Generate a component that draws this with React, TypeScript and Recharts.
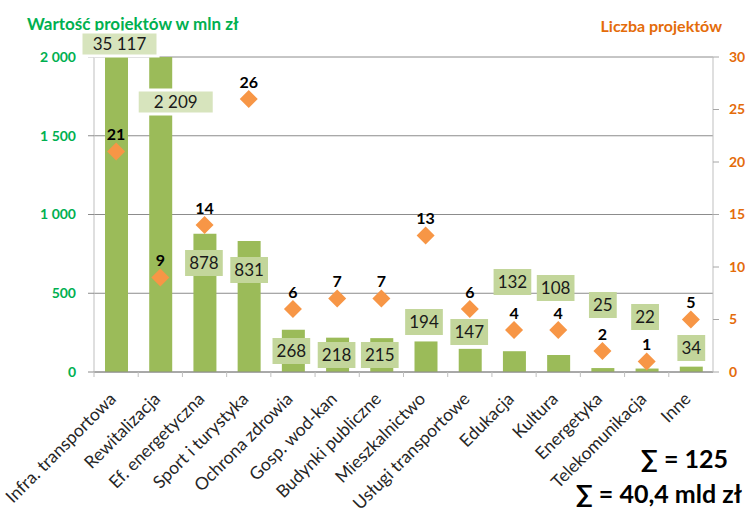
import { ComposedChart, Bar, Line, XAxis, YAxis, CartesianGrid, LabelList } from 'recharts';

const categories = [
  'Infra. transportowa',
  'Rewitalizacja',
  'Ef. energetyczna',
  'Sport i turystyka',
  'Ochrona zdrowia',
  'Gosp. wod-kan',
  'Budynki publiczne',
  'Mieszkalnictwo',
  'Usługi transportowe',
  'Edukacja',
  'Kultura',
  'Energetyka',
  'Telekomunikacja',
  'Inne',
];
const values = [35117, 2209, 878, 831, 268, 218, 215, 194, 147, 132, 108, 25, 22, 34];
const counts = [21, 9, 14, 26, 6, 7, 7, 13, 6, 4, 4, 2, 1, 5];
const valueTicks = [0, 500, 1000, 1500, 2000];
const countTicks = [0, 5, 10, 15, 20, 25, 30];

const VALUE_MAX = 2000;
const COUNT_MAX = 30;

// value labels were dragged around by hand in the original: [dx, px above the axis]
const LABEL_POS: [number, number][] = [
  [3, 328], [15, 270], [-1, 109], [0, 102], [-2, 21], [-1, 17], [-2, 17],
  [-2, 50], [-1, 40], [-2, 90], [-3, 84], [0, 67], [-2, 55], [0, 24],
];

const FONT = 'Lato, "Open Sans", sans-serif';
const GREEN = '#00B050';
const ORANGE = '#E46C0A';

const data = categories.map((name, i) => ({ name, value: values[i], count: counts[i] }));

const fmt = (v: number) => String(v).replace(/\B(?=(\d{3})+(?!\d))/g, ' ');

function ValueLabel(props: any) {
  const vb = props.viewBox ?? {};
  const x = props.x ?? vb.x;
  const y = props.y ?? vb.y;
  const width = props.width ?? vb.width;
  const height = props.height ?? vb.height;
  const { index, value } = props;
  const [dx, lift] = LABEL_POS[index];
  const cx = x + width / 2 + dx;
  const cy = y + height - lift;
  const text = fmt(value);
  const over = value > VALUE_MAX;
  const w = over ? 74 : text.length * 9.9 + 8;
  const h = over ? 21 : 26;
  return (
    <g>
      {over && <rect x={cx - w / 2 - 3} y={cy - h / 2 - 3} width={w + 6} height={h + 6} fill="#fff" />}
      <rect x={cx - w / 2} y={cy - h / 2} width={w} height={h} fill={over ? '#D7E4BD' : '#C3D69B'} />
      <text x={cx} y={cy} dy="0.36em" textAnchor="middle" fontSize={17} fill="#1a1a1a" fontFamily={FONT}>
        {text}
      </text>
    </g>
  );
}

function CountLabel(props: any) {
  const vb = props.viewBox ?? {};
  const x = props.x ?? vb.x;
  const y = props.y ?? vb.y;
  return (
    <text x={x} y={y - 17} dy="0.36em" textAnchor="middle" fontSize={16} fontWeight="bold" fill="#000" fontFamily={FONT}>
      {props.value}
    </text>
  );
}

function Diamond(props: any) {
  const { cx, cy, index } = props;
  const r = 9;
  return <path key={index} d={`M${cx},${cy - r}L${cx + r},${cy}L${cx},${cy + r}L${cx - r},${cy}Z`} fill="#F79646" />;
}

function CategoryTick(props: any) {
  const { x, y, payload, width, visibleTicksCount } = props;
  const band = width && visibleTicksCount ? width / visibleTicksCount : 44.2;
  const bx = x - band / 2;
  return (
    <g>
      <line x1={bx} x2={bx} y1={y} y2={y + 5} stroke="#BFBFBF" />
      <text
        transform={`translate(${x + 1},${y + 28}) rotate(-45)`}
        textAnchor="end"
        fontSize={17.5}
        fill="#262626"
        fontFamily={FONT}
      >
        {payload.value}
      </text>
    </g>
  );
}

export default function App() {
  return (
    <div style={{ position: 'absolute', left: 0, top: 0, width: 745, height: 509, background: '#fff', fontFamily: FONT }}>
      <svg width={745} height={509} style={{ position: 'absolute', left: 0, top: 0 }}>
        <text x={27} y={30} fontSize={17} fontWeight="bold" fill={GREEN} fontFamily={FONT}>
          Wartość projektów w mln zł
        </text>
        <text x={722} y={32} textAnchor="end" fontSize={16} fontWeight="bold" fill={ORANGE} fontFamily={FONT}>
          Liczba projektów
        </text>
        <text x={728} y={468} textAnchor="end" fontSize={25} fontWeight="bold" fill="#000" fontFamily={FONT}>
          ∑ = 125
        </text>
        <text x={742} y={503} textAnchor="end" fontSize={25} fontWeight="bold" fill="#000" fontFamily={FONT}>
          ∑ = 40,4 mld zł
        </text>
      </svg>
      <div style={{ position: 'absolute', left: 0, top: 0 }}>
        <ComposedChart width={745} height={509} data={data} margin={{ top: 57, right: 0, bottom: 0, left: 0 }}>
          <CartesianGrid yAxisId="value" vertical={false} stroke="#8C8C8C" />
          <XAxis
            dataKey="name"
            interval={0}
            height={137}
            tickSize={0}
            tickMargin={0}
            tickLine={false}
            axisLine={{ stroke: '#8C8C8C' }}
            tick={<CategoryTick />}
          />
          <YAxis
            yAxisId="value"
            domain={[0, VALUE_MAX]}
            ticks={valueTicks}
            allowDataOverflow
            width={94}
            tickSize={6}
            tickMargin={12}
            tickFormatter={fmt}
            axisLine={{ stroke: '#BFBFBF' }}
            tickLine={{ stroke: '#8C8C8C' }}
            tick={{ fill: GREEN, fontSize: 14, fontWeight: 'bold', fontFamily: FONT }}
          />
          <YAxis
            yAxisId="count"
            orientation="right"
            domain={[0, COUNT_MAX]}
            ticks={countTicks}
            width={32}
            tickSize={6}
            tickMargin={10}
            axisLine={{ stroke: '#BFBFBF' }}
            tickLine={{ stroke: '#A6A6A6' }}
            tick={{ fill: ORANGE, fontSize: 14, fontWeight: 'bold', fontFamily: FONT, textAnchor: 'start' }}
          />
          <Bar yAxisId="value" dataKey="value" fill="#9BBB59" barSize={23} isAnimationActive={false}>
            <LabelList dataKey="value" content={<ValueLabel />} />
          </Bar>
          <Line
            yAxisId="count"
            dataKey="count"
            stroke="none"
            dot={(p: any) => <Diamond key={p.index} {...p} />}
            activeDot={false}
            isAnimationActive={false}
          >
            <LabelList dataKey="count" content={<CountLabel />} />
          </Line>
        </ComposedChart>
      </div>
    </div>
  );
}
